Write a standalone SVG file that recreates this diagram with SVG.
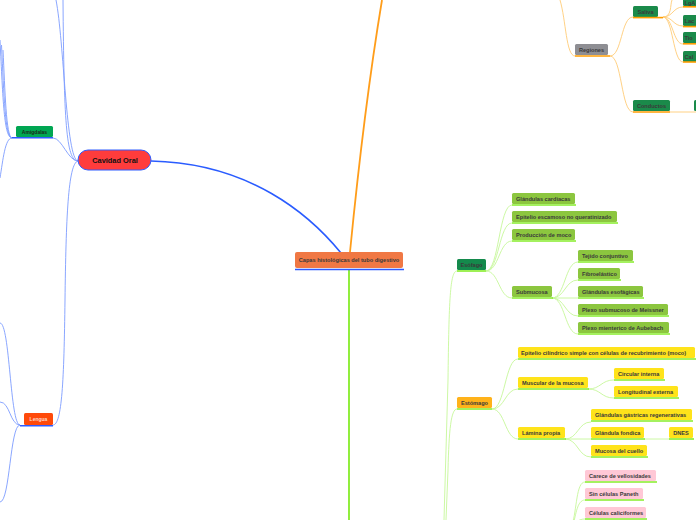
<svg xmlns="http://www.w3.org/2000/svg" width="696" height="520" viewBox="0 0 696 520">
<style>
text{font-family:"Liberation Sans",Arial,sans-serif;font-size:5.6px;font-weight:bold;fill:#3a3a3a}
.b{fill:none;stroke:#7d9cff;stroke-width:0.9}
.o{fill:none;stroke:#ffcc77;stroke-width:0.9}
.g{fill:none;stroke:#c6f79a;stroke-width:0.9}
.ul-b{stroke:#2f5cff;stroke-width:1.6}
.ul-o{stroke:#ff9d00;stroke-width:1.6}
.ul-g{stroke:#86ec2a;stroke-width:1.6}
.dg{fill:#1a8a4a}
.lg{fill:#8cc63f}
.ye{fill:#ffe31a}
.pk{fill:#ffc8d6}
</style>
<rect width="696" height="520" fill="#fff"/>
<g id="connectors">
<path d="M151,161 C 250,163 310,215 341,253" fill="none" stroke="#2a5cff" stroke-width="1.6"/>
<path d="M350,252 C 360,150 372,60 382,0" fill="none" stroke="#ff9d1a" stroke-width="1.8"/>
<path d="M349,270 L 349,520" fill="none" stroke="#86ec2a" stroke-width="1.8"/>
<path class="b" d="M78,161 C 66,161 64,120 63,0"/>
<path class="b" d="M78,161 C 66,160 64,40 56,0"/>
<path class="b" d="M78,161 C 68,161 62,138 53,138"/>
<path class="b" d="M78,161 C 68,163 66,220 65,300 C 64,380 62,425 53,425"/>
<path class="b" d="M12,138 C 4,138 3,100 0,40"/>
<path class="b" d="M12,138 C 5,138 4,95 1.5,45"/>
<path class="b" d="M12,138 C 6,137 5,90 3,50"/>
<path class="b" d="M12,138 C 5,138 3,160 0,178"/>
<path class="b" d="M20,425 C 10,425 10,323 0,323"/>
<path class="b" d="M20,425 C 10,425 10,402 0,402"/>
<path class="b" d="M20,425 C 10,425 10,502 0,502"/>
<path class="o" d="M575,56 C 566,56 566,20 560,0"/>
<path class="o" d="M610,56 C 622,56 621,17 633,17"/>
<path class="o" d="M610,56 C 622,56 621,112 633,112"/>
<path class="o" d="M663,17 C 672,17 670,5 672,0"/>
<path class="o" d="M663,17 C 673,17 673,7 683,7"/>
<path class="o" d="M663,17 C 673,17 673,26 683,26"/>
<path class="o" d="M663,17 C 673,17 673,44 683,44"/>
<path class="o" d="M663,17 C 673,17 673,62 683,62"/>
<path class="o" d="M670,112 L 696,112"/>
<path class="g" d="M457,271 C 450,271 449,300 448,380 L 444,520"/>
<path class="g" d="M457,409 C 451,409 449,430 448,470 L 446,520"/>
<path class="g" d="M486,271 C 499,271 499,205 512,205"/>
<path class="g" d="M486,271 C 499,271 499,223 512,223"/>
<path class="g" d="M486,271 C 499,271 499,241 512,241"/>
<path class="g" d="M486,271 C 499,271 499,298 512,298"/>
<path class="g" d="M552,298 C 565,298 565,262 578,262"/>
<path class="g" d="M552,298 C 565,298 565,280 578,280"/>
<path class="g" d="M552,298 L 578,298"/>
<path class="g" d="M552,298 C 565,298 565,316 578,316"/>
<path class="g" d="M552,298 C 565,298 565,334 578,334"/>
<path class="g" d="M492,409 C 505,409 505,359 518,359"/>
<path class="g" d="M492,409 C 505,409 505,389 518,389"/>
<path class="g" d="M492,409 C 505,409 505,439 518,439"/>
<path class="g" d="M588,389 C 601,389 601,380 614,380"/>
<path class="g" d="M588,389 C 601,389 601,398 614,398"/>
<path class="g" d="M565,439 C 578,439 578,422 591,422"/>
<path class="g" d="M565,439 L 591,439"/>
<path class="g" d="M565,439 C 578,439 578,457 591,457"/>
<path class="g" d="M644,439 L 669,439"/>
<path class="g" d="M585,482 C 576,482 577,510 572,525"/>
<path class="g" d="M585,500 C 577,500 576,515 573,525"/>
<path class="g" d="M585,519 C 579,519 576,522 574,525"/>
</g>
<g id="central">
<rect x="295" y="252" width="108" height="16" rx="2" fill="#f07844"/>
<line x1="295" y1="269.5" x2="404" y2="269.5" class="ul-b"/>
<text x="349" y="262" text-anchor="middle" fill="#3a2010">Capas histológicas del tubo digestivo</text>
</g>
<g id="cavidad-oral">
<rect x="78" y="150" width="73" height="20" rx="10" fill="#ff3c3c" stroke="#2f5cff" stroke-width="1"/>
<text x="115" y="162.6" text-anchor="middle" style="font-size:7.4px;fill:#111">Cavidad Oral</text>
</g>
<g id="amigdalas">
<rect x="16" y="126" width="37" height="11" rx="1.5" fill="#00a652"/>
<line x1="12" y1="137.8" x2="53" y2="137.8" class="ul-b"/>
<text x="34.5" y="133.6" text-anchor="middle" style="font-size:5px;fill:#1a2a1a">Amigdalas</text>
</g>
<g id="lengua">
<rect x="24" y="413" width="29" height="12" rx="1.5" fill="#ff4a0a"/>
<line x1="20" y1="425.8" x2="53" y2="425.8" class="ul-b"/>
<text x="38.5" y="421" text-anchor="middle" style="font-size:5px;fill:#ffd8c8">Lengua</text>
</g>
<g id="regiones">
<rect x="575" y="44" width="33" height="11" rx="1.5" fill="#8e8e93"/>
<line x1="575" y1="56" x2="610" y2="56" class="ul-o"/>
<text x="591.5" y="51.6" text-anchor="middle">Regiones</text>
</g>
<g id="saliva">
<rect x="633" y="6" width="25" height="11" rx="1.5" class="dg"/>
<line x1="633" y1="17.6" x2="663" y2="17.6" class="ul-o"/>
<text x="645.5" y="13.6" text-anchor="middle">Saliva</text>
</g>
<g id="conductos">
<rect x="633" y="100" width="37" height="11" rx="1.5" class="dg"/>
<line x1="633" y1="112" x2="670" y2="112" class="ul-o"/>
<text x="651.5" y="107.6" text-anchor="middle">Conductos</text>
</g>
<g id="conductos-child">
<rect x="694" y="100" width="10" height="11" rx="1.5" class="dg"/>
</g>
<g id="lga">
<rect x="683" y="-5" width="20" height="11" rx="1.5" class="dg"/>
<line x1="683" y1="6.8" x2="696" y2="6.8" class="ul-o"/>
<text x="684.5" y="4.6">LgA</text>
</g>
<g id="lac">
<rect x="683" y="15" width="20" height="11" rx="1.5" class="dg"/>
<line x1="683" y1="26.6" x2="696" y2="26.6" class="ul-o"/>
<text x="684.5" y="22.6">Lac</text>
</g>
<g id="tio">
<rect x="683" y="32" width="20" height="11" rx="1.5" class="dg"/>
<line x1="683" y1="43.8" x2="696" y2="43.8" class="ul-o"/>
<text x="684.5" y="39.6">Tio</text>
</g>
<g id="cal">
<rect x="683" y="51" width="20" height="11" rx="1.5" class="dg"/>
<line x1="683" y1="62" x2="696" y2="62" class="ul-o"/>
<text x="684.5" y="58.6">Cal</text>
</g>
<g id="esofago">
<rect x="457" y="259" width="29" height="11" rx="1.5" fill="#148a4c"/>
<line x1="457" y1="271" x2="486" y2="271" class="ul-g"/>
<text x="471.5" y="266.6" text-anchor="middle">Esófago</text>
</g>
<g id="glandulas-cardiacas">
<rect x="512" y="193" width="63" height="11" rx="1.5" class="lg"/>
<line x1="512" y1="205" x2="576" y2="205" class="ul-g"/>
<text x="516" y="200.6">Glándulas cardiacas</text>
</g>
<g id="epitelio-escamoso">
<rect x="512" y="211" width="105" height="11" rx="1.5" class="lg"/>
<line x1="512" y1="223" x2="618" y2="223" class="ul-g"/>
<text x="516" y="218.6">Epitelio escamoso no queratinizado</text>
</g>
<g id="produccion-moco">
<rect x="512" y="229" width="63" height="11" rx="1.5" class="lg"/>
<line x1="512" y1="241" x2="576" y2="241" class="ul-g"/>
<text x="516" y="236.6">Producción de moco</text>
</g>
<g id="submucosa">
<rect x="512" y="286" width="40" height="11" rx="1.5" class="lg"/>
<line x1="512" y1="298" x2="553" y2="298" class="ul-g"/>
<text x="516" y="293.6">Submucosa</text>
</g>
<g id="tejido-conjuntivo">
<rect x="578" y="250" width="55" height="11" rx="1.5" class="lg"/>
<line x1="578" y1="262" x2="634" y2="262" class="ul-g"/>
<text x="582" y="257.6">Tejido conjuntivo</text>
</g>
<g id="fibroelastico">
<rect x="578" y="268" width="42" height="11" rx="1.5" class="lg"/>
<line x1="578" y1="280" x2="621" y2="280" class="ul-g"/>
<text x="582" y="275.6">Fibroelástico</text>
</g>
<g id="glandulas-esofagicas">
<rect x="578" y="286" width="65" height="11" rx="1.5" class="lg"/>
<line x1="578" y1="298" x2="644" y2="298" class="ul-g"/>
<text x="582" y="293.6">Glándulas esofágicas</text>
</g>
<g id="plexo-meissner">
<rect x="578" y="304" width="90" height="11" rx="1.5" class="lg"/>
<line x1="578" y1="316" x2="669" y2="316" class="ul-g"/>
<text x="582" y="311.6">Plexo submucoso de Meissner</text>
</g>
<g id="plexo-aubebach">
<rect x="578" y="322" width="91" height="11" rx="1.5" class="lg"/>
<line x1="578" y1="334" x2="670" y2="334" class="ul-g"/>
<text x="582" y="329.6">Plexo mienterico de Aubebach</text>
</g>
<g id="estomago">
<rect x="457" y="397" width="35" height="11" rx="1.5" fill="#ffb21a"/>
<line x1="457" y1="409" x2="492" y2="409" class="ul-g"/>
<text x="474.5" y="404.6" text-anchor="middle">Estómago</text>
</g>
<g id="epitelio-cilindrico">
<rect x="518" y="347" width="177" height="11" rx="1.5" class="ye"/>
<line x1="518" y1="359" x2="696" y2="359" class="ul-g"/>
<text x="521" y="354.6">Epitelio cilíndrico simple con células de recubrimiento (moco)</text>
</g>
<g id="muscular-mucosa">
<rect x="518" y="377" width="70" height="11" rx="1.5" class="ye"/>
<line x1="518" y1="389" x2="589" y2="389" class="ul-g"/>
<text x="522" y="384.6">Muscular de la mucosa</text>
</g>
<g id="circular-interna">
<rect x="614" y="368" width="50" height="11" rx="1.5" class="ye"/>
<line x1="614" y1="380" x2="665" y2="380" class="ul-g"/>
<text x="618" y="375.6">Circular interna</text>
</g>
<g id="longitudinal-externa">
<rect x="614" y="386" width="64" height="11" rx="1.5" class="ye"/>
<line x1="614" y1="398" x2="679" y2="398" class="ul-g"/>
<text x="618" y="393.6">Longitudinal externa</text>
</g>
<g id="lamina-propia">
<rect x="518" y="427" width="47" height="11" rx="1.5" class="ye"/>
<line x1="518" y1="439" x2="566" y2="439" class="ul-g"/>
<text x="522" y="434.6">Lámina propia</text>
</g>
<g id="glandulas-gastricas">
<rect x="591" y="409" width="101" height="11" rx="1.5" class="ye"/>
<line x1="591" y1="421" x2="693" y2="421" class="ul-g"/>
<text x="595" y="416.6">Glándulas gástricas regenerativas</text>
</g>
<g id="glandula-fondica">
<rect x="591" y="427" width="53" height="11" rx="1.5" class="ye"/>
<line x1="591" y1="439" x2="645" y2="439" class="ul-g"/>
<text x="595" y="434.6">Glándula fondica</text>
</g>
<g id="dnes">
<rect x="669" y="427" width="24" height="11" rx="1.5" class="ye"/>
<line x1="669" y1="439" x2="694" y2="439" class="ul-g"/>
<text x="681" y="434.6" text-anchor="middle">DNES</text>
</g>
<g id="mucosa-cuello">
<rect x="591" y="445" width="56" height="11" rx="1.5" class="ye"/>
<line x1="591" y1="457" x2="648" y2="457" class="ul-g"/>
<text x="595" y="452.6">Mucosa del cuello</text>
</g>
<g id="carece-vellosidades">
<rect x="585" y="470" width="71" height="11" rx="1.5" class="pk"/>
<line x1="585" y1="482" x2="657" y2="482" class="ul-g"/>
<text x="589" y="477.6">Carece de vellosidades</text>
</g>
<g id="sin-paneth">
<rect x="585" y="488" width="58" height="11" rx="1.5" class="pk"/>
<line x1="585" y1="500" x2="644" y2="500" class="ul-g"/>
<text x="589" y="495.6">Sin células Paneth</text>
</g>
<g id="caliciformes">
<rect x="585" y="507" width="61" height="11" rx="1.5" class="pk"/>
<line x1="585" y1="519" x2="647" y2="519" class="ul-g"/>
<text x="589" y="514.6">Células caliciformes</text>
</g>
</svg>
